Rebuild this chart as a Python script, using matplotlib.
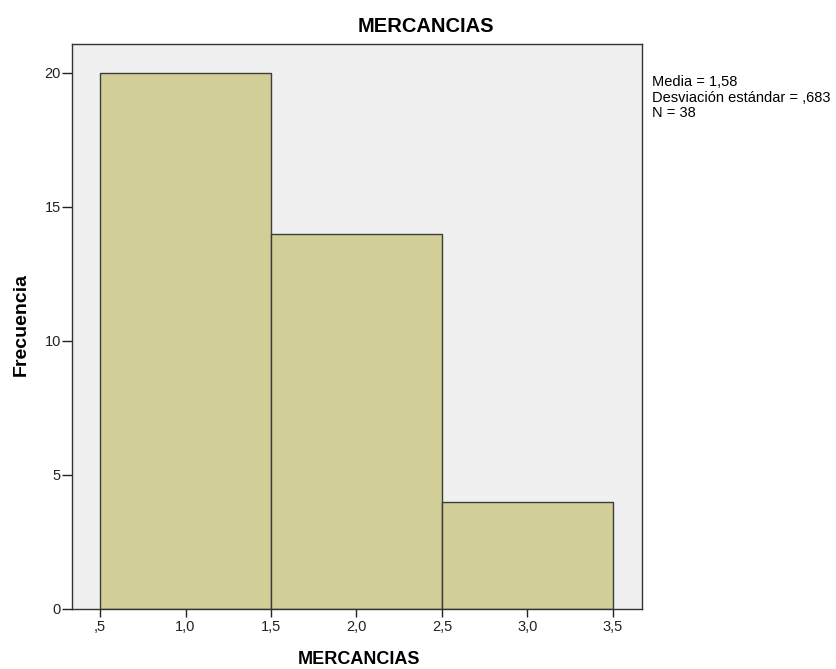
import matplotlib
matplotlib.use("Agg")
import matplotlib.pyplot as plt

plt.rcParams['font.family'] = ['Liberation Sans', 'DejaVu Sans']

bin_edges = [0.5, 1.5, 2.5, 3.5]
counts = [20, 14, 4]
x_ticks = [0.5, 1.0, 1.5, 2.0, 2.5, 3.0, 3.5]
x_tick_labels = [",5", "1,0", "1,5", "2,0", "2,5", "3,0", "3,5"]
y_ticks = [0, 5, 10, 15, 20]
stats_lines = ["Media = 1,58", "Desviación estándar = ,683", "N = 38"]

fig = plt.figure(figsize=(8.36, 6.69), dpi=100)
ax = fig.add_axes([72/836, 1-609/669, (642-72)/836, (609-44)/669])
ax.set_facecolor('#F0F0F0')

lefts = bin_edges[:-1]
widths = [bin_edges[i+1]-bin_edges[i] for i in range(len(counts))]
ax.bar(lefts, counts, width=widths, align='edge', color='#D2CE98',
       edgecolor='#3C3C3C', linewidth=1.0)

ax.set_xlim(0.336, 3.67)
ax.set_ylim(0, 21.07)
ax.set_xticks(x_ticks)
ax.set_xticklabels(x_tick_labels)
ax.set_yticks(y_ticks)
ax.tick_params(direction='out', width=1, labelsize=10.5, colors='#222222')
ax.tick_params(axis='y', length=7, pad=1)
ax.tick_params(axis='x', length=6, pad=2)
for s in ax.spines.values():
    s.set_color('#333333')
    s.set_linewidth(1.0)

fig.text(426/836, 1-27/669, "MERCANCIAS", ha='center', va='center', fontsize=14.5, fontweight='bold')
fig.text(359/836, 1-660/669, "MERCANCIAS", ha='center', va='center', fontsize=13, fontweight='bold')
fig.text(21/836, 1-325/669, "Frecuencia", ha='center', va='center', rotation=90, fontsize=14, fontweight='bold')

line_y = [82, 97.5, 113]
for txt, yy in zip(stats_lines, line_y):
    fig.text(652/836, 1-yy/669, txt, ha='left', va='center', fontsize=10.5)

fig.savefig("out.png", dpi=100)
